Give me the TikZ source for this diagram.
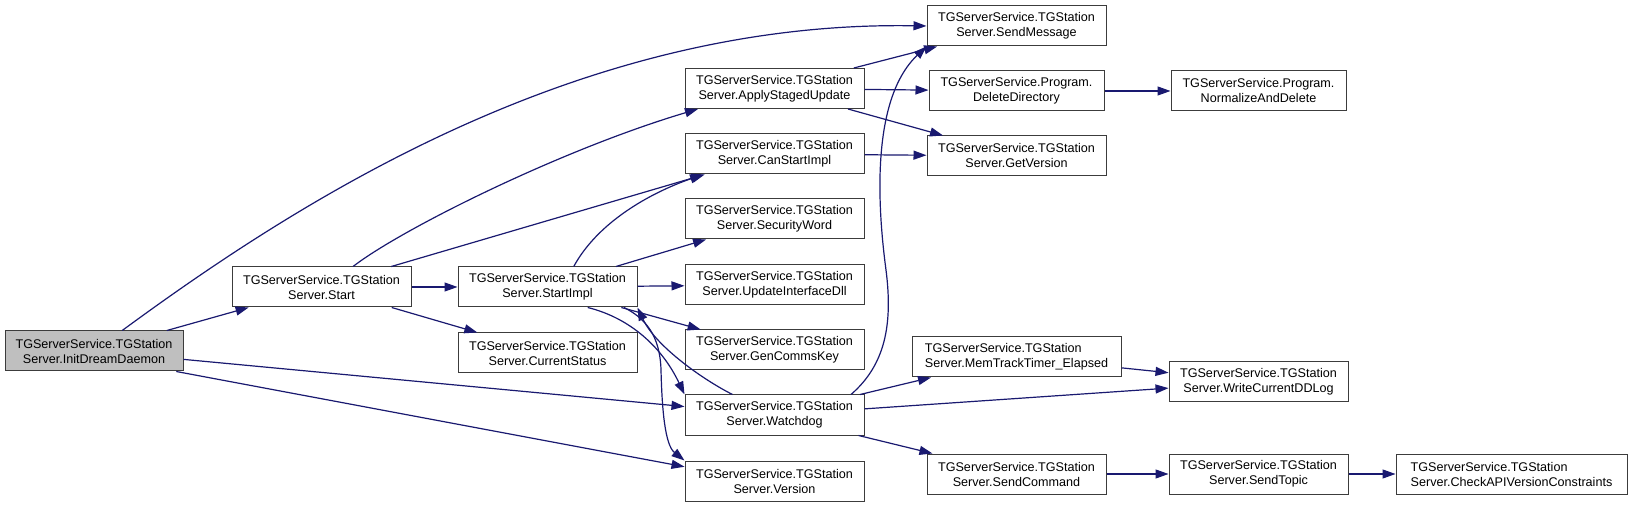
\documentclass[tikz,border=0pt]{standalone}
\usepackage{fontspec}
\setmainfont{Liberation Sans}
\usetikzlibrary{arrows.meta}
\definecolor{edgenavy}{RGB}{25,25,112}
\definecolor{boxedge}{RGB}{60,60,60}
\definecolor{rootfill}{RGB}{191,191,191}
\tikzset{
  fnbox/.style={rectangle, draw=boxedge, line width=0.5pt, fill=white,
    minimum width=89.5pt, minimum height=20pt, inner sep=0pt, align=center,
    font=\fontsize{6.3}{7.5}\selectfont},
  rootbox/.style={fnbox, fill=rootfill},
  leftbox/.style={fnbox, align=left},
  callln/.style={-{Triangle[length=6.5pt,width=4.5pt]}, line width=0.6pt, edgenavy},
}

\begin{document}
\begin{tikzpicture}[x=0.5pt, y=-0.5pt]
    \fill[white] (0,0) rectangle (1632,507);
    \useasboundingbox (0,0) rectangle (1632,507);
    % caller and first level
    \node[rootbox, minimum width=89pt] (init) at (94,351) {TGServerService.TGStation\\Server.InitDreamDaemon};
    \node[fnbox] (start) at (321.5,287) {TGServerService.TGStation\\Server.Start};
    \node[fnbox] (startimpl) at (547.5,287) {TGServerService.TGStation\\Server.StartImpl};
    \node[fnbox] (curstatus) at (547.5,353) {TGServerService.TGStation\\Server.CurrentStatus};
    % middle column
    \node[fnbox] (applyupd) at (774.5,88.5) {TGServerService.TGStation\\Server.ApplyStagedUpdate};
    \node[fnbox] (canstart) at (774.5,154) {TGServerService.TGStation\\Server.CanStartImpl};
    \node[fnbox] (secword) at (774.5,219) {TGServerService.TGStation\\Server.SecurityWord};
    \node[fnbox] (updiface) at (774.5,285) {TGServerService.TGStation\\Server.UpdateInterfaceDll};
    \node[fnbox] (gencomms) at (774.5,350) {TGServerService.TGStation\\Server.GenCommsKey};
    \node[fnbox] (watchdog) at (774.5,415) {TGServerService.TGStation\\Server.Watchdog};
    \node[fnbox] (version) at (774.5,481) {TGServerService.TGStation\\Server.Version};
    % right columns
    \node[fnbox] (sendmsg) at (1016.5,26) {TGServerService.TGStation\\Server.SendMessage};
    \node[fnbox, minimum width=87.5pt] (deldir) at (1016.5,91) {TGServerService.Program.\\DeleteDirectory};
    \node[fnbox] (getver) at (1016.5,156) {TGServerService.TGStation\\Server.GetVersion};
    \node[leftbox, minimum width=104.5pt] (memtrack) at (1016.5,357) {TGServerService.TGStation\\Server.MemTrackTimer\_Elapsed};
    \node[fnbox] (sendcmd) at (1016.5,474) {TGServerService.TGStation\\Server.SendCommand};
    \node[fnbox, minimum width=87.5pt] (normdel) at (1258.5,91) {TGServerService.Program.\\NormalizeAndDelete};
    \node[fnbox] (writelog) at (1258.5,382) {TGServerService.TGStation\\Server.WriteCurrentDDLog};
    \node[fnbox] (sendtopic) at (1258.5,474) {TGServerService.TGStation\\Server.SendTopic};
    \node[leftbox, minimum width=115.5pt] (checkapi) at (1511.5,474) {TGServerService.TGStation\\Server.CheckAPIVersionConstraints};
    % straight calls
    \foreach \a/\b in {init/start, init/watchdog, start/startimpl, start/curstatus,
        start/canstart, startimpl/updiface, startimpl/gencomms, startimpl/secword,
        applyupd/sendmsg, applyupd/deldir, applyupd/getver, canstart/getver,
        deldir/normdel, watchdog/memtrack, watchdog/writelog, watchdog/sendcmd,
        memtrack/writelog, sendcmd/sendtopic, sendtopic/checkapi} {
      \draw[callln] (\a) -- (\b);
    }
    \draw[callln] (init.-14) -- (version.171);
    % curved calls
    \draw[callln] (init.36) .. controls (300,200) and (580,20) .. (sendmsg.west);
    \draw[callln] (start.33) .. controls (400,230) and (560,150) .. (applyupd.195);
    \draw[callln] (startimpl.38) .. controls (598,222) and (650,193) .. (canstart.196);
    \draw[callln] (startimpl.-27) .. controls (630,318) and (662,347) .. (watchdog.north west);
    \draw[callln] (startimpl.-15) .. controls (645,318) and (660,335) .. (661,370)
      .. controls (662,410) and (665,445) .. (version.north west);
    \draw[callln] (watchdog.154) .. controls (700,378) and (655,345) .. (startimpl.south east);
    \draw[callln] (watchdog.15) .. controls (885,365) and (893,325) .. (886,270)
      .. controls (878,210) and (870,100) .. (sendmsg.south west);
\end{tikzpicture}
\end{document}
